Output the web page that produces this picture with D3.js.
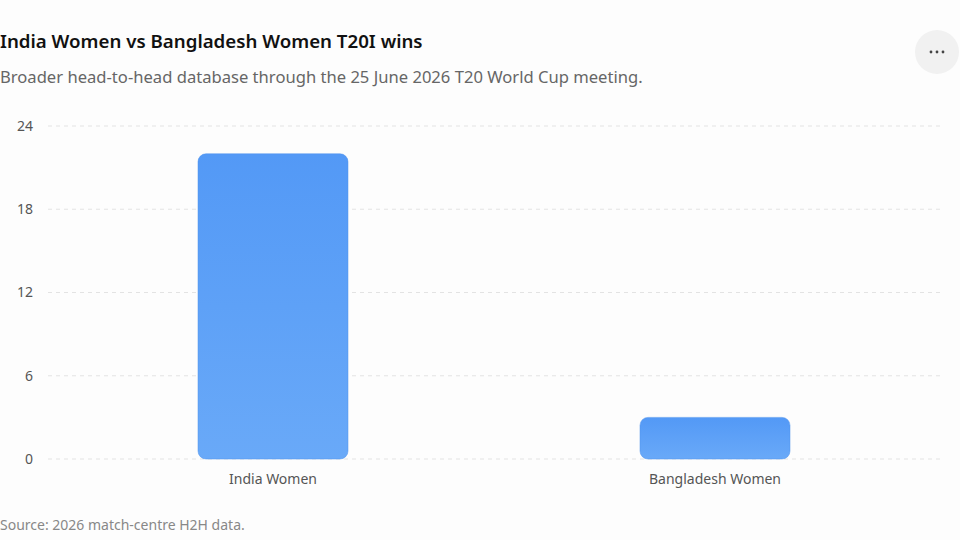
<!DOCTYPE html>
<html>
<head>
<meta charset="utf-8">
<script src="https://cdn.jsdelivr.net/npm/d3@7"></script>
<style>
  html, body { margin: 0; padding: 0; background: #fdfdfd; }
  body { width: 960px; height: 540px; overflow: hidden; font-family: "Segoe UI", "Noto Sans", "Open Sans", sans-serif; }
</style>
</head>
<body>
<svg id="chart" width="960" height="540"></svg>
<script>
const teams = ["India Women", "Bangladesh Women"];
const wins = [22, 3];
const yTicks = [0, 6, 12, 18, 24];

const svg = d3.select("#chart");
const width = +svg.attr("width");
const height = +svg.attr("height");
const margin = { top: 126, right: 18, bottom: 81, left: 48 };

// title block
svg.append("text")
  .attr("x", 0).attr("y", 48)
  .attr("fill", "#111")
  .attr("font-size", "18.7px")
  .attr("font-weight", 600)
  .text("India Women vs Bangladesh Women T20I wins");

svg.append("text")
  .attr("x", 0).attr("y", 83)
  .attr("fill", "#666")
  .attr("font-size", "16.6px")
  .text("Broader head-to-head database through the 25 June 2026 T20 World Cup meeting.");

// menu button
const menu = svg.append("g").attr("transform", "translate(937,52)");
menu.append("circle").attr("r", 22).attr("fill", "#f1f1f1");
menu.selectAll("circle.dot")
  .data([-6, 0, 6])
  .join("circle")
  .attr("class", "dot")
  .attr("cx", d => d).attr("cy", 0).attr("r", 1.4)
  .attr("fill", "#444");

// scales
const x = d3.scaleBand()
  .domain(teams)
  .range([52, 936])
  .padding(0);

const y = d3.scaleLinear()
  .domain([0, 24])
  .range([height - margin.bottom, margin.top]);

// grid
svg.append("g")
  .selectAll("line")
  .data(yTicks)
  .join("line")
  .attr("x1", margin.left)
  .attr("x2", width - margin.right)
  .attr("y1", d => y(d))
  .attr("y2", d => y(d))
  .attr("stroke", "#e3e3e3")
  .attr("stroke-dasharray", "4,4");

// y axis labels
const yAxis = svg.append("g")
  .attr("transform", `translate(33,0)`)
  .call(d3.axisLeft(y).tickValues(yTicks).tickSize(0).tickPadding(0));
yAxis.select(".domain").remove();
yAxis.selectAll("text")
  .attr("fill", "#555")
  .attr("font-size", "14px")
  .attr("font-family", "\"Segoe UI\", \"Noto Sans\", sans-serif");

// gradient
const defs = svg.append("defs");
const grad = defs.append("linearGradient")
  .attr("id", "barGrad")
  .attr("x1", "0%").attr("x2", "0%")
  .attr("y1", "0%").attr("y2", "100%");
grad.append("stop").attr("offset", "0%").attr("stop-color", "#5399f6");
grad.append("stop").attr("offset", "100%").attr("stop-color", "#69a9f8");

// bars
const barW = 150;
svg.append("g")
  .selectAll("rect")
  .data(teams.map((t, i) => ({ team: t, value: wins[i] })))
  .join("rect")
  .attr("x", d => x(d.team) + x.bandwidth() / 2 - barW / 2)
  .attr("y", d => y(d.value))
  .attr("width", barW)
  .attr("height", d => y(0) - y(d.value))
  .attr("rx", 8)
  .attr("fill", "url(#barGrad)")
  .attr("stroke", "#4f93ee")
  .attr("stroke-opacity", 0.5)
  .attr("stroke-width", 1);

// x axis labels
const xAxis = svg.append("g")
  .attr("transform", `translate(0,${y(0)})`)
  .call(d3.axisBottom(x).tickSize(0).tickPadding(15));
xAxis.select(".domain").remove();
xAxis.selectAll("text")
  .attr("fill", "#555")
  .attr("font-size", "14px")
  .attr("font-family", "\"Segoe UI\", \"Noto Sans\", sans-serif");

// source
svg.append("text")
  .attr("x", 0).attr("y", 530)
  .attr("fill", "#888")
  .attr("font-size", "14px")
  .text("Source: 2026 match-centre H2H data.");
</script>
</body>
</html>
